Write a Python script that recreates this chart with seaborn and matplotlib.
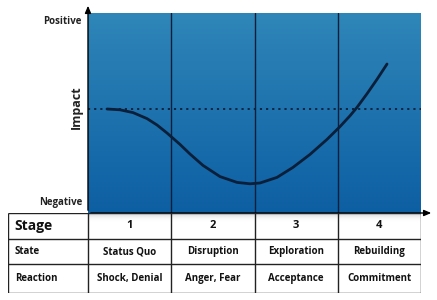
import numpy as np
import pandas as pd
import matplotlib
matplotlib.use("Agg")
import matplotlib.pyplot as plt
from matplotlib.colors import LinearSegmentedColormap
import seaborn as sns

# ---- data ----
curve_x = [0.228, 0.384, 0.541, 0.709, 0.829, 0.949, 1.105, 1.225, 1.381, 1.586, 1.790,
           1.946, 2.066, 2.270, 2.462, 2.667, 2.871, 3.027, 3.147, 3.231, 3.351, 3.471, 3.592]
curve_y = [52.0, 51.6, 50.2, 47.2, 44.0, 40.0, 34.3, 29.5, 23.8, 18.2, 15.3,
           14.6, 15.0, 17.8, 22.8, 29.3, 36.8, 43.2, 48.6, 52.8, 59.6, 66.8, 74.5]
baseline = 52.0
stages = ["1", "2", "3", "4"]
states = ["Status Quo", "Disruption", "Exploration", "Rebuilding"]
reactions = ["Shock, Denial", "Anger, Fear", "Acceptance", "Commitment"]
row_labels = ["Stage", "State", "Reaction"]

sns.set_theme(style="white")
plt.rcParams['font.family'] = ['Open Sans', 'DejaVu Sans']
plt.rcParams['font.weight'] = 'bold'

W, H = 437, 300
fig = plt.figure(figsize=(W / 100, H / 100), dpi=100)

navy = "#0b1f3a"
L, R, T, B = 88, 421, 13, 213
ax = fig.add_axes([L / W, 1 - B / H, (R - L) / W, (B - T) / H])
ax.set_xlim(0, 4)
ax.set_ylim(0, 100)
cmap = LinearSegmentedColormap.from_list("bg", ["#0d5fa3", "#2f86b8"])
grad = np.linspace(0, 1, 256).reshape(-1, 1)
ax.imshow(grad, extent=[0, 4, 0, 100], origin="lower", aspect="auto", cmap=cmap, zorder=0)
for xv in [1, 2, 3]:
    ax.axvline(xv, color=navy, lw=1.0, zorder=1)
ax.axhline(baseline, color=navy, lw=1.3, linestyle=(0, (1.2, 2.2)), zorder=1)
df = pd.DataFrame({"x": curve_x, "y": curve_y})
sns.lineplot(data=df, x="x", y="y", ax=ax, color=navy, lw=2.0, zorder=3, sort=False)
ax.lines[-1].set_solid_joinstyle("round")
ax.lines[-1].set_solid_capstyle("round")
ax.set_xlabel("")
ax.set_ylabel("")
ax.set_xticks([])
ax.set_yticks([])
for s in ax.spines.values():
    s.set_visible(False)

# axis arrows (figure pixel coordinates, origin bottom-left)
ax.annotate("", xy=(L, H - 3), xytext=(L, H - B), xycoords="figure pixels",
            textcoords="figure pixels",
            arrowprops=dict(arrowstyle="-|>,head_length=0.35,head_width=0.15", color="black", lw=1.0))
ax.annotate("", xy=(434, H - B), xytext=(L, H - B), xycoords="figure pixels",
            textcoords="figure pixels",
            arrowprops=dict(arrowstyle="-|>,head_length=0.35,head_width=0.15", color="black", lw=1.0))

fig.text(82 / W, 1 - 21 / H, "Positive", ha="right", va="center", fontsize=7.0, fontweight="bold", color="#222222")
fig.text(82 / W, 1 - 203 / H, "Negative", ha="right", va="center", fontsize=7.0, fontweight="bold", color="#222222")
fig.text(76 / W, 1 - 107 / H, "Impact", ha="center", va="center", rotation=90, fontsize=9.0,
         fontweight="bold", color="#222222")

# ---- table ----
TL, TB = 8, 293
tax = fig.add_axes([TL / W, 1 - TB / H, (R - TL) / W, (TB - B) / H])
x0 = -(L - TL) / ((R - L) / 4)
tax.set_xlim(x0, 4)
tax.set_ylim(80, 0)
tax.set_xticks([])
tax.set_yticks([])
for s in tax.spines.values():
    s.set_visible(False)
# shadow under plot area
shadow = np.linspace(0, 1, 64).reshape(-1, 1)
scmap = LinearSegmentedColormap.from_list("sh", [(0.82, 0.82, 0.84, 1.0), (1, 1, 1, 0.0)])
tax.imshow(shadow, extent=[0, 4, 9, 0], origin="upper", aspect="auto", cmap=scmap, zorder=0)

row_edges = [0, 26, 51, 80]
col_edges = [x0, 0, 1, 2, 3, 4]
lc = "#222222"
for ye in row_edges:
    tax.plot([x0, 4], [ye, ye], color=lc, lw=1.0, zorder=2, solid_capstyle="butt")
for xe in col_edges:
    tax.plot([xe, xe], [0, 80], color=lc, lw=1.0, zorder=2, solid_capstyle="butt")

mids = [(row_edges[i] + row_edges[i + 1]) / 2 for i in range(3)]
tax.text(x0 + 0.08, mids[0], row_labels[0], ha="left", va="center", fontsize=10.0, fontweight="bold", color="#111111")
tax.text(x0 + 0.08, mids[1], row_labels[1], ha="left", va="center", fontsize=7.0, fontweight="bold", color="#111111")
tax.text(x0 + 0.08, mids[2], row_labels[2], ha="left", va="center", fontsize=7.0, fontweight="bold", color="#111111")
for i in range(4):
    tax.text(i + 0.5, mids[0], stages[i], ha="center", va="center", fontsize=8.0, fontweight="bold", color="#111111")
    tax.text(i + 0.5, mids[1], states[i], ha="center", va="center", fontsize=7.0, fontweight="bold", color="#111111")
    tax.text(i + 0.5, mids[2], reactions[i], ha="center", va="center", fontsize=7.0, fontweight="bold", color="#111111")

fig.savefig("out.png", dpi=100, facecolor="white")
